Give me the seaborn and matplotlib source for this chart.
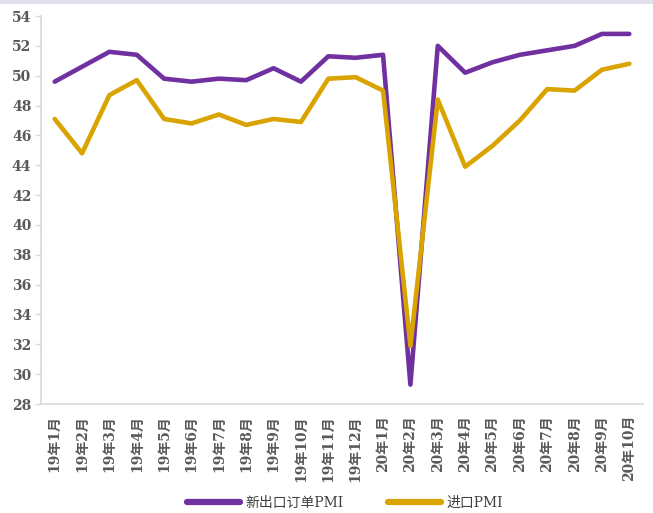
import numpy as np
import pandas as pd
import matplotlib
matplotlib.use("Agg")
import matplotlib.pyplot as plt
import seaborn as sns
from matplotlib.patches import Rectangle

months = ["19年1月", "19年2月", "19年3月", "19年4月", "19年5月", "19年6月",
          "19年7月", "19年8月", "19年9月", "19年10月", "19年11月", "19年12月",
          "20年1月", "20年2月", "20年3月", "20年4月", "20年5月", "20年6月",
          "20年7月", "20年8月", "20年9月", "20年10月"]
new_export_orders = [49.6, 50.6, 51.6, 51.4, 49.8, 49.6, 49.8, 49.7, 50.5, 49.6, 51.3,
                     51.2, 51.4, 29.3, 52.0, 50.2, 50.9, 51.4, 51.7, 52.0, 52.8, 52.8]
imports = [47.1, 44.8, 48.7, 49.7, 47.1, 46.8, 47.4, 46.7, 47.1, 46.9, 49.8,
           49.9, 49.0, 31.9, 48.4, 43.9, 45.3, 47.0, 49.1, 49.0, 50.4, 50.8]
series_names = ["新出口订单PMI", "进口PMI"]
y_ticks = list(range(28, 55, 2))

df = pd.DataFrame({
    "idx": list(range(len(months))) * 2,
    "value": new_export_orders + imports,
    "series": [series_names[0]] * len(months) + [series_names[1]] * len(months),
})

sns.set_theme(style="white")
mixed = ["DejaVu Serif", "Noto Sans CJK SC", "DejaVu Sans"]
plt.rcParams["font.family"] = mixed

fig = plt.figure(figsize=(6.53, 5.13), dpi=100)
ax = fig.add_axes([41 / 653, 1 - 404 / 513, 602 / 653, 388 / 513])

# thin header band along the top edge
fig.patches.append(Rectangle((0, 1 - 4 / 513), 1, 4 / 513, transform=fig.transFigure,
                             facecolor="#E4DFEC", edgecolor="none"))

palette = {series_names[0]: "#7030A0", series_names[1]: "#D9A300"}
sns.lineplot(data=df, x="idx", y="value", hue="series", palette=palette,
             linewidth=3.3, ax=ax, legend=True)
for line in ax.get_lines():
    line.set_solid_capstyle("round")
    line.set_solid_joinstyle("round")

ax.set_xlim(-0.5, len(months) - 0.5)
ax.set_ylim(28, 54)
ax.set_yticks(y_ticks)
ax.set_yticklabels([str(v) for v in y_ticks], fontsize=10, color="#595959",
                   fontweight="bold", family=mixed)
ax.set_xticks(range(len(months)))
ax.set_xticklabels(months, rotation=90, fontsize=10, color="#595959",
                   va="top", ha="center", family=mixed, fontweight="bold")
ax.set_xticks(np.arange(-0.5, len(months), 1.0), minor=True)
ax.tick_params(axis="x", which="major", length=0, pad=8)
ax.tick_params(axis="x", which="minor", length=5, color="#D9D9D9", width=1, direction="out")
ax.tick_params(axis="y", length=4, color="#D9D9D9", width=1, direction="out", pad=3, left=True)
ax.set_xlabel("")
ax.set_ylabel("")

for side in ["top", "right"]:
    ax.spines[side].set_visible(False)
for side in ["left", "bottom"]:
    ax.spines[side].set_color("#D9D9D9")
    ax.spines[side].set_linewidth(1.2)

ax.get_legend().remove()
handles, labels = ax.get_legend_handles_labels()
for h in handles:
    h.set_linewidth(4.5)
    h.set_solid_capstyle("round")
fig.legend(handles, labels, loc="center", bbox_to_anchor=(345 / 653, 1 - 503 / 513),
           ncol=2, frameon=False, handlelength=3.8, columnspacing=3.2, handletextpad=0.4,
           prop={"family": mixed, "size": 10})
for t in fig.legends[0].get_texts():
    t.set_color("#404040")

fig.savefig("out.png", dpi=100)
